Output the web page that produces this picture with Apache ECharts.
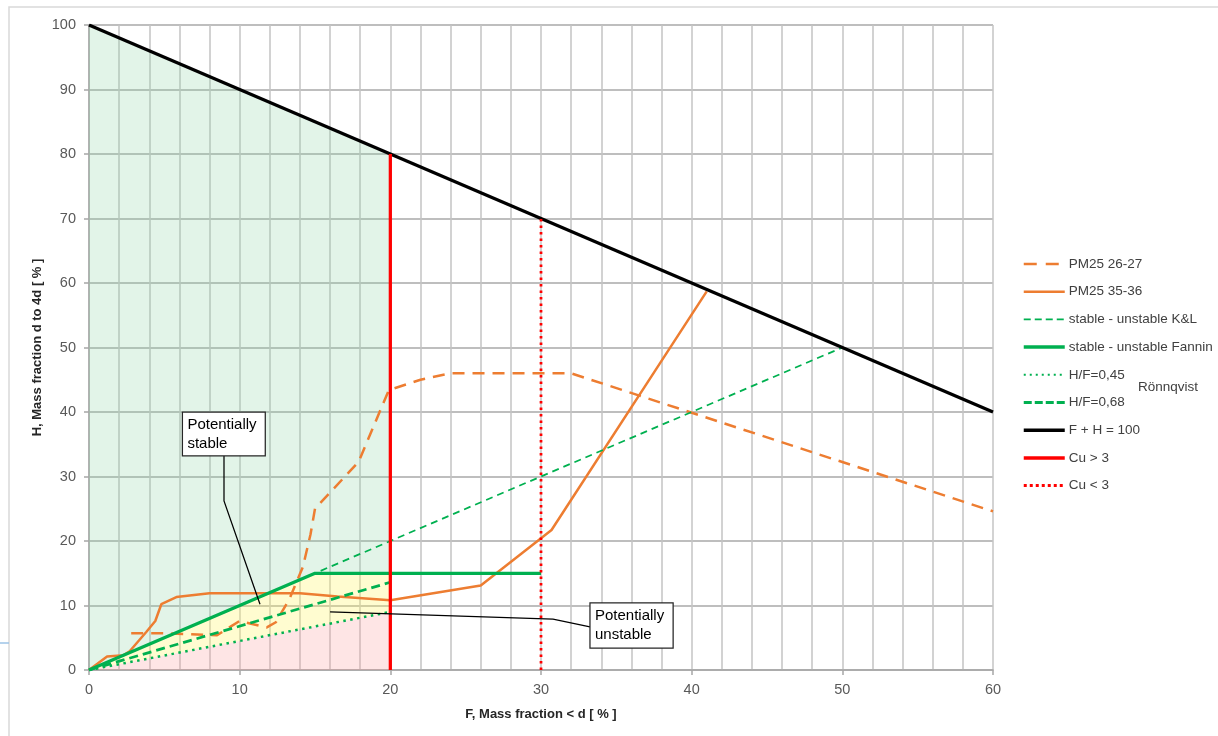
<!DOCTYPE html>
<html>
<head>
<meta charset="utf-8">
<script src="https://cdn.jsdelivr.net/npm/echarts@6/dist/echarts.min.js"></script>
<style>
  html, body { margin: 0; padding: 0; background: #ffffff; }
  #chart { width: 1218px; height: 736px; }
</style>
</head>
<body>
<div id="chart"></div>
<script>
// Grading curves of the two samples: [F, H] in %
const pm2627 = [[2.8,5.7],[5,5.7],[8.5,5.4],[10,7.6],[11.8,6.6],[12.4,7.4],[13.3,11],[14.2,16],[14.7,21],[15,25],[17.9,32.3],[19.9,43.4],[22,45],[24,46],[32,46],[60,24.6]];
const pm3536 = [[0,0],[1.2,2.1],[2.3,2.3],[2.7,2.9],[3.8,5.9],[4.4,7.6],[4.8,10.2],[5.8,11.3],[8,11.9],[14,11.9],[16.5,11.4],[20,10.8],[26,13.1],[30.7,21.7],[37.6,46.5],[41,58.7]];

// Stability criteria
const kenneyLau = [[0,0],[50,50]];
const fannin = [[0,0],[15,15],[30,15]];
const ronnqvist045 = [[0,0],[20,9]];
const ronnqvist068 = [[0,0],[20,13.6]];
const sumLimit = [[0,100],[60,40]];
const cuAbove3 = [[20,0],[20,80]];
const cuBelow3 = [[30,0],[30,70]];

// Shaded zones
const stableZone = [[0,0],[0,100],[20,80],[20,15],[15,15]];
const transitionZone = [[0,0],[15,15],[20,15],[20,9]];
const unstableZone = [[0,0],[20,9],[20,0]];

// Axis ticks
const xTicks = { min: 0, max: 60, step: 10 };
const yTicks = { min: 0, max: 100, step: 10 };

// Annotation callouts
const stableNote = { text: 'Potentially\nstable', box: [6.2, 40, 11.7, 33.2], leader: [[8.96,33.2],[8.96,26.2],[11.35,10.2]] };
const unstableNote = { text: 'Potentially\nunstable', box: [33.25, 10.4, 38.77, 3.4], leader: [[16,9.0],[30.8,7.9],[33.25,6.7]] };

const names = ['PM25 26-27','PM25 35-36','stable - unstable K&L','stable - unstable Fannin','H/F=0,45','H/F=0,68','F + H = 100','Cu > 3','Cu < 3'];

const FONT = '"Liberation Sans", Arial, sans-serif';
const ORANGE = '#ED7D31', GREEN = '#00B050', RED = '#FF0000';

function zone(data, color) {
  return {
    type: 'custom', silent: true, z: 1,
    data: data,
    renderItem: function (params, api) {
      if (params.dataIndex !== 0) return null;
      const pts = data.map(p => api.coord(p));
      return { type: 'polygon', shape: { points: pts }, style: { fill: color, stroke: null } };
    }
  };
}

function line(name, data, color, width, type, z) {
  return {
    name: name, type: 'line', data: data, symbol: 'none', z: z || 3,
    lineStyle: { color: color, width: width, type: type || 'solid', cap: 'butt' },
    itemStyle: { color: color },
    emphasis: { disabled: true }, animation: false
  };
}

// Legend key line styles
const legendKeys = [
  { type: [13, 9], width: 2.5 },
  { width: 2.5 },
  { type: [7, 4], width: 1.75 },
  { width: 3.5 },
  { type: [2, 4], width: 2 },
  { type: [8, 3], width: 3 },
  { width: 3.5 },
  { width: 3.5 },
  { type: [3, 3], width: 3 }
];
const legendData = names.map((n, i) => ({ name: n, lineStyle: legendKeys[i] }));

const chart = echarts.init(document.getElementById('chart'), null, { renderer: 'canvas' });

chart.setOption({
  animation: false,
  backgroundColor: '#ffffff',
  textStyle: { fontFamily: FONT },
  grid: { left: 89, top: 25, right: 225, bottom: 66, containLabel: false },
  xAxis: {
    type: 'value', min: xTicks.min, max: xTicks.max, interval: xTicks.step,
    name: 'F, Mass fraction < d [ % ]', nameLocation: 'middle', nameGap: 38, nameMoveOverlap: false,
    nameTextStyle: { fontFamily: FONT, fontSize: 13, fontWeight: 'bold', color: '#262626' },
    axisLine: { show: true, onZero: false, lineStyle: { color: '#a6a6a6', width: 1.5 } },
    axisTick: { show: true, length: 5, lineStyle: { color: '#a6a6a6', width: 1.5 } },
    axisLabel: { fontFamily: FONT, fontSize: 14.5, color: '#595959', margin: 12 },
    splitLine: { show: true, lineStyle: { color: '#c4c4c4', width: 1.5 } },
    minorTick: { show: false, splitNumber: 5 },
    minorSplitLine: { show: true, lineStyle: { color: '#c4c4c4', width: 1.5 } }
  },
  yAxis: {
    type: 'value', min: yTicks.min, max: yTicks.max, interval: yTicks.step,
    name: 'H, Mass fraction d to 4d [ % ]', nameLocation: 'middle', nameGap: 45, nameRotate: 90, nameMoveOverlap: false,
    nameTextStyle: { fontFamily: FONT, fontSize: 13, fontWeight: 'bold', color: '#262626' },
    axisLine: { show: true, onZero: false, lineStyle: { color: '#a6a6a6', width: 1.5 } },
    axisTick: { show: true, length: 5, lineStyle: { color: '#a6a6a6', width: 1.5 } },
    axisLabel: { fontFamily: FONT, fontSize: 14.5, color: '#595959', margin: 13 },
    splitLine: { show: true, lineStyle: { color: '#a8a8a8', width: 1.5 } }
  },
  legend: {
    orient: 'vertical', left: 1022, top: 257, padding: 0,
    itemWidth: 41, itemHeight: 14, itemGap: 13.7,
    data: legendData, selectedMode: false,
    itemStyle: { color: 'rgba(0,0,0,0)', borderWidth: 0, opacity: 0 },
    textStyle: { fontFamily: FONT, fontSize: 13.5, color: '#404040', padding: [0, 0, 0, -1] }
  },
  series: [
    zone(stableZone, 'rgba(139,211,163,0.25)'),
    zone(transitionZone, 'rgba(255,245,100,0.30)'),
    zone(unstableZone, 'rgba(250,150,150,0.25)'),
    line(names[0], pm2627, ORANGE, 2.5, [12, 8]),
    line(names[1], pm3536, ORANGE, 2.5, 'solid'),
    line(names[2], kenneyLau, GREEN, 1.75, [7, 5]),
    line(names[3], fannin, GREEN, 3.25, 'solid'),
    line(names[4], ronnqvist045, GREEN, 2.5, [2.5, 4.5]),
    line(names[5], ronnqvist068, GREEN, 2.75, [9, 5]),
    line(names[6], sumLimit, '#000000', 3.25, 'solid', 4),
    line(names[7], cuAbove3, RED, 3.25, 'solid', 4),
    line(names[8], cuBelow3, RED, 2.75, [2.5, 4], 4)
  ]
});

// Callouts and frame, placed through the axes' own coordinate conversion
function px(p) { return chart.convertToPixel({ gridIndex: 0 }, p); }

function callout(note) {
  const a = px([note.box[0], note.box[1]]);
  const b = px([note.box[2], note.box[3]]);
  const pts = note.leader.map(px);
  return [
    { type: 'polyline', z: 20, shape: { points: pts }, style: { stroke: '#000', lineWidth: 1.25, fill: null } },
    { type: 'rect', z: 21, shape: { x: a[0], y: a[1], width: b[0] - a[0], height: b[1] - a[1] },
      style: { fill: '#ffffff', stroke: '#262626', lineWidth: 1.25 } },
    { type: 'text', z: 22, x: a[0] + 5, y: a[1] + 3,
      style: { text: note.text, fill: '#000000', font: '15px ' + FONT, lineHeight: 19, verticalAlign: 'top' } }
  ];
}

chart.setOption({
  graphic: [
    { type: 'rect', z: 0, silent: true, shape: { x: 9, y: 7, width: 1300, height: 800 },
      style: { fill: null, stroke: '#d9d9d9', lineWidth: 1.5 } },
    { type: 'line', z: 0, silent: true, shape: { x1: 0, y1: 643, x2: 9, y2: 643 },
      style: { stroke: '#9dc3e6', lineWidth: 1.5 } },
    { type: 'text', z: 5, x: 1138, y: 387,
      style: { text: 'Rönnqvist', fill: '#404040', font: '13.5px ' + FONT, verticalAlign: 'middle' } }
  ].concat(callout(stableNote), callout(unstableNote))
});
</script>
</body>
</html>
